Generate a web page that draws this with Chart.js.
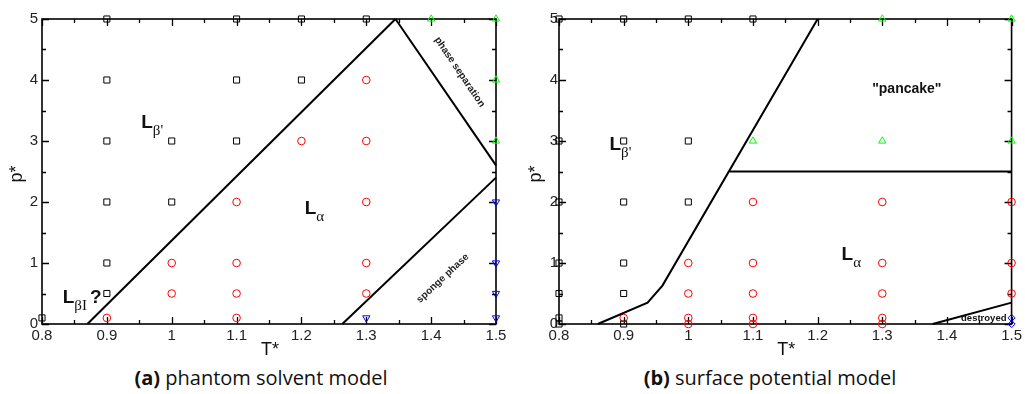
<!DOCTYPE html>
<html>
<head>
<meta charset="utf-8">
<script src="https://cdn.jsdelivr.net/npm/chart.js@4"></script>
<style>
  body { margin: 0; background: #fff; width: 1025px; height: 394px; overflow: hidden; position: relative; }
  canvas { position: absolute; top: 0; }
  #ca { left: 0; }
  #cb { left: 512px; }
  .cap { position: absolute; top: 364px; font-family: "Open Sans", sans-serif; font-size: 20px; color: #111; text-align: center; }
  #capA { left: 0; width: 522px; }
  #capB { left: 512px; width: 516px; }
</style>
</head>
<body>
<canvas id="ca" width="512" height="360"></canvas>
<canvas id="cb" width="513" height="360"></canvas>
<div class="cap" id="capA"><b>(a)</b> phantom solvent model</div>
<div class="cap" id="capB"><b>(b)</b> surface potential model</div>
<script>
// Phase diagrams: T* (x) vs p* (y)

// panel (a) phantom solvent model
const aSquares  = [[0.8,0.1],[0.9,0.5],[0.9,1],[0.9,2],[0.9,3],[0.9,4],[0.9,5],[1.0,2],[1.0,3],
                   [1.1,3],[1.1,4],[1.1,5],[1.2,4],[1.2,5],[1.3,5]];
const aCircles  = [[0.9,0.1],[1.0,0.5],[1.0,1],[1.1,0.1],[1.1,0.5],[1.1,1],[1.1,2],[1.2,3],
                   [1.3,0.5],[1.3,1],[1.3,2],[1.3,3],[1.3,4]];
const aUpTri    = [[1.4,5],[1.5,5],[1.5,4],[1.5,3]];
const aDownTri  = [[1.3,0.1],[1.5,0.1],[1.5,0.5],[1.5,1],[1.5,2]];
const aLine1    = [[0.87,0],[1.345,5]];
const aLine2    = [[1.345,5],[1.5,2.6]];
const aLine3    = [[1.263,0],[1.5,2.4]];

// panel (b) surface potential model
const bSquares  = [[0.8,0],[0.8,0.1],[0.8,0.5],[0.8,1],[0.8,2],[0.8,3],[0.8,5],
                   [0.9,0],[0.9,0.5],[0.9,1],[0.9,2],[0.9,3],[0.9,5],[1.0,2],[1.0,3],[1.0,5],[1.1,5]];
const bCircles  = [[0.9,0.1],[1.0,0],[1.0,0.1],[1.0,0.5],[1.0,1],[1.1,0],[1.1,0.1],[1.1,0.5],[1.1,1],[1.1,2],
                   [1.3,0],[1.3,0.1],[1.3,0.5],[1.3,1],[1.3,2],[1.5,0.5],[1.5,1],[1.5,2]];
const bUpTri    = [[1.1,3],[1.3,3],[1.3,5],[1.5,3],[1.5,5]];
const bDiamonds = [[1.5,0],[1.5,0.1]];
const bLine1    = [[0.86,0],[0.937,0.35],[0.96,0.63],[1.2,5]];
const bLine2    = [[1.064,2.5],[1.5,2.5]];
const bLine3    = [[1.378,0],[1.5,0.35]];

// axis ranges / ticks
const xMin = 0.8, xMax = 1.5, xStep = 0.1;
const yMin = 0, yMax = 5, yStep = 1;

// text labels (data coordinates)
const aLabels = [
  { kind: "L", t: 0.953, p: 3.21, sub: "β'" },
  { kind: "L", t: 1.205, p: 1.80, sub: "α" },
  { kind: "L", t: 0.832, p: 0.34, sub: "βI", tail: "?" },
  { kind: "rot", t: 1.444, p: 4.13, text: "phase separation", angle: 56 },
  { kind: "rot", t: 1.418, p: 0.75, text: "sponge phase", angle: -43 },
];
const bLabels = [
  { kind: "L", t: 0.878, p: 2.85, sub: "β'" },
  { kind: "L", t: 1.237, p: 1.05, sub: "α" },
  { kind: "plain", t: 1.338, p: 3.85, text: "\"pancake\"", size: 14 },
  { kind: "plain", t: 1.457, p: 0.10, text: "destroyed", size: 9.5 },
];

const toXY = arr => arr.map(d => ({ x: d[0], y: d[1] }));

function markers(data, style, color, radius, rotation) {
  return {
    data: toXY(data),
    pointStyle: style,
    pointRadius: radius,
    pointBorderColor: color,
    pointBackgroundColor: "rgba(0,0,0,0)",
    pointBorderWidth: 1,
    pointRotation: rotation || 0,
    showLine: false,
    clip: false,
  };
}

function boundary(data) {
  return {
    data: toXY(data),
    showLine: true,
    borderColor: "#000",
    borderWidth: 2,
    pointRadius: 0,
    clip: false,
  };
}

// inward ticks, frame, axis titles and region labels
const decor = {
  id: "decor",
  beforeDatasetsDraw(chart) {
    const ctx = chart.ctx;
    const a = chart.chartArea;
    const xs = chart.scales.x, ys = chart.scales.y;
    ctx.save();
    ctx.strokeStyle = "#000";
    ctx.lineWidth = 1.3;
    ctx.beginPath();
    for (let i = 0; i <= Math.round((xMax - xMin) / (xStep / 2)); i++) {
      const v = xMin + i * xStep / 2;
      const px = Math.round(xs.getPixelForValue(v)) + 0.5;
      const len = i % 2 === 0 ? 7 : 4;
      ctx.moveTo(px, a.bottom); ctx.lineTo(px, a.bottom - len);
      ctx.moveTo(px, a.top); ctx.lineTo(px, a.top + len);
    }
    for (let i = 0; i <= Math.round((yMax - yMin) / (yStep / 2)); i++) {
      const v = yMin + i * yStep / 2;
      const py = Math.round(ys.getPixelForValue(v)) + 0.5;
      const len = i % 2 === 0 ? 7 : 4;
      ctx.moveTo(a.left, py); ctx.lineTo(a.left + len, py);
      ctx.moveTo(a.right, py); ctx.lineTo(a.right - len, py);
    }
    ctx.stroke();
    ctx.lineWidth = 1.6;
    ctx.strokeRect(a.left, a.top, a.right - a.left, a.bottom - a.top);
    ctx.restore();
  },
  afterDraw(chart, args, opts) {
    const ctx = chart.ctx;
    const a = chart.chartArea;
    const xs = chart.scales.x, ys = chart.scales.y;
    ctx.save();
    ctx.fillStyle = "#111";
    // axis titles
    ctx.font = "18px 'Liberation Sans', Arial, sans-serif";
    ctx.textAlign = "center";
    ctx.textBaseline = "alphabetic";
    ctx.fillText("T*", (a.left + a.right) / 2 + 1, 355);
    ctx.save();
    ctx.translate(opts.yTitleX, 174);
    ctx.rotate(-Math.PI / 2);
    ctx.fillText("p*", 0, 6);
    ctx.restore();
    // labels
    opts.labels.forEach(l => {
      const px = xs.getPixelForValue(l.t);
      const py = ys.getPixelForValue(l.p);
      if (l.kind === "L") {
        ctx.textAlign = "left";
        ctx.textBaseline = "alphabetic";
        ctx.font = "bold 19px 'Liberation Sans', Arial, sans-serif";
        ctx.fillText("L", px, py);
        const w = ctx.measureText("L").width;
        ctx.font = "15px 'Liberation Serif', serif";
        ctx.fillText(l.sub, px + w, py + 7);
        if (l.tail) {
          const ws = ctx.measureText(l.sub).width;
          ctx.font = "bold 19px 'Liberation Sans', Arial, sans-serif";
          ctx.fillText(l.tail, px + w + ws + 3, py);
        }
      } else if (l.kind === "rot") {
        ctx.save();
        ctx.translate(px, py);
        ctx.rotate(l.angle * Math.PI / 180);
        ctx.textAlign = "center";
        ctx.textBaseline = "middle";
        ctx.font = "bold 10px 'Liberation Sans', Arial, sans-serif";
        ctx.fillStyle = "#222";
        ctx.fillText(l.text, 0, 0);
        ctx.restore();
      } else {
        ctx.textAlign = "center";
        ctx.textBaseline = "middle";
        ctx.font = "bold " + l.size + "px 'Liberation Sans', Arial, sans-serif";
        ctx.fillText(l.text, px, py);
      }
    });
    ctx.restore();
  }
};

function makeChart(id, datasets, labels, yWidth, yPad, rightPad, yTitleX) {
  return new Chart(document.getElementById(id), {
    type: "scatter",
    data: { datasets },
    plugins: [decor],
    options: {
      responsive: false,
      animation: false,
      layout: { padding: { top: 19, right: rightPad, left: 0, bottom: 0 } },
      scales: {
        x: {
          type: "linear",
          min: xMin, max: xMax,
          grid: { display: false, drawTicks: false },
          border: { display: false },
          ticks: {
            stepSize: xStep,
            padding: 3,
            color: "#222",
            font: { family: "'Liberation Sans', Arial, sans-serif", size: 15 },
            callback: v => String(Number(v.toFixed(2))),
          },
          afterFit: s => { s.height = 36; },
        },
        y: {
          type: "linear",
          min: yMin, max: yMax,
          grid: { display: false, drawTicks: false },
          border: { display: false },
          ticks: {
            stepSize: yStep,
            padding: yPad,
            color: "#222",
            font: { family: "'Liberation Sans', Arial, sans-serif", size: 15 },
          },
          afterFit: s => { s.width = yWidth; },
        },
      },
      plugins: {
        legend: { display: false },
        tooltip: { enabled: false },
        decor: { labels, yTitleX },
      },
    },
  });
}

makeChart("ca", [
  boundary(aLine1), boundary(aLine2), boundary(aLine3),
  markers(aSquares, "rect", "#000", 4.3),
  markers(aCircles, "circle", "#ff0000", 3.8),
  markers(aUpTri, "triangle", "#00ff00", 4.2),
  markers(aDownTri, "triangle", "#0000ff", 4.2, 180),
], aLabels, 42, 4, 16, 16);

makeChart("cb", [
  boundary(bLine1), boundary(bLine2), boundary(bLine3),
  markers(bSquares, "rect", "#000", 4.3),
  markers(bCircles, "circle", "#ff0000", 3.8),
  markers(bUpTri, "triangle", "#00ff00", 4.2),
  markers(bDiamonds, "rectRot", "#0000ff", 3.6),
], bLabels, 47, 1, 11, 23);
</script>
</body>
</html>
